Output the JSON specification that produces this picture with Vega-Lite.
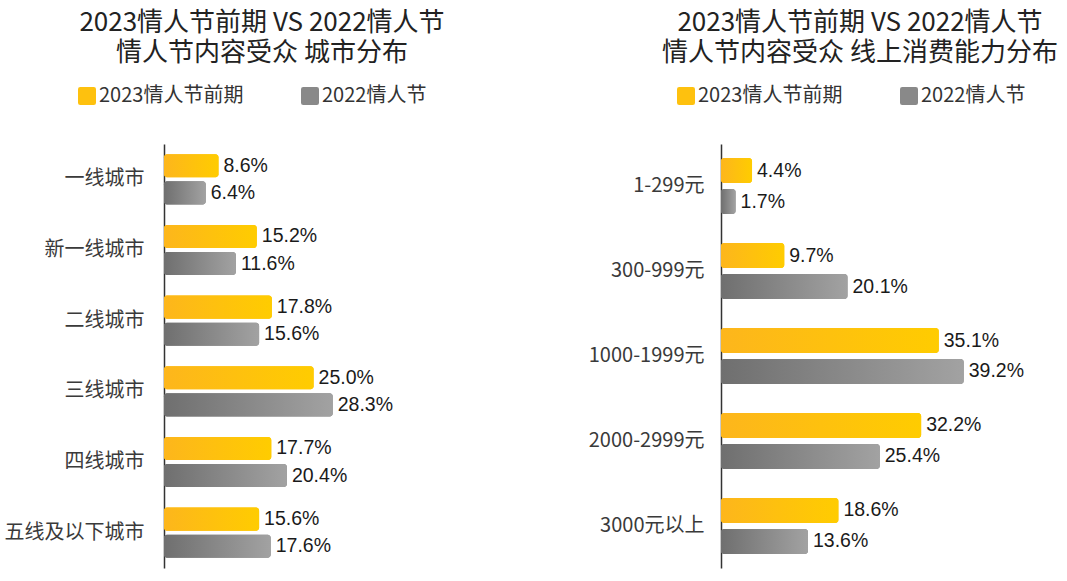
{
  "$schema": "https://vega.github.io/schema/vega-lite/v6.json",
  "background": "white",
  "padding": {"left": 4, "top": 10, "right": 5, "bottom": 5},
  "bounds": "flush",
  "spacing": 361,
  "config": {
    "view": {"stroke": null},
    "font": "Noto Sans CJK SC",
    "axis": {"labelFont": "Noto Sans CJK SC", "labelFontSize": 20, "labelColor": "#3a3a3a", "domainColor": "#333333", "domainWidth": 1.5, "ticks": false, "title": null, "labelPadding": 20, "grid": false},
    "legend": {"padding": 0},
    "title": {"font": "Noto Sans CJK SC", "fontSize": 26, "fontWeight": "normal", "color": "#222222", "lineHeight": 30, "anchor": "middle", "offset": 20}
  },
  "datasets": {
    "city": [
      {"category": "一线城市", "series": "2023情人节前期", "value": 0.086},
      {"category": "一线城市", "series": "2022情人节", "value": 0.064},
      {"category": "新一线城市", "series": "2023情人节前期", "value": 0.152},
      {"category": "新一线城市", "series": "2022情人节", "value": 0.116},
      {"category": "二线城市", "series": "2023情人节前期", "value": 0.178},
      {"category": "二线城市", "series": "2022情人节", "value": 0.156},
      {"category": "三线城市", "series": "2023情人节前期", "value": 0.250},
      {"category": "三线城市", "series": "2022情人节", "value": 0.283},
      {"category": "四线城市", "series": "2023情人节前期", "value": 0.177},
      {"category": "四线城市", "series": "2022情人节", "value": 0.204},
      {"category": "五线及以下城市", "series": "2023情人节前期", "value": 0.156},
      {"category": "五线及以下城市", "series": "2022情人节", "value": 0.176}
    ],
    "spend": [
      {"category": "1-299元", "series": "2023情人节前期", "value": 0.044},
      {"category": "1-299元", "series": "2022情人节", "value": 0.017},
      {"category": "300-999元", "series": "2023情人节前期", "value": 0.097},
      {"category": "300-999元", "series": "2022情人节", "value": 0.201},
      {"category": "1000-1999元", "series": "2023情人节前期", "value": 0.351},
      {"category": "1000-1999元", "series": "2022情人节", "value": 0.392},
      {"category": "2000-2999元", "series": "2023情人节前期", "value": 0.322},
      {"category": "2000-2999元", "series": "2022情人节", "value": 0.254},
      {"category": "3000元以上", "series": "2023情人节前期", "value": 0.186},
      {"category": "3000元以上", "series": "2022情人节", "value": 0.136}
    ]
  },
  "resolve": {"scale": {"color": "independent", "x": "independent", "y": "independent", "yOffset": "independent"}, "legend": {"color": "independent"}},
  "hconcat": [
    {
      "width": 196,
      "height": 424,
      "title": {"text": ["2023情人节前期 VS 2022情人节", "情人节内容受众 城市分布"]},
      "data": {"name": "city"},
      "encoding": {
        "y": {"field": "category", "type": "nominal", "sort": null, "scale": {"paddingInner": 0.29, "paddingOuter": 0.145}, "axis": {}},
        "yOffset": {"field": "series", "type": "nominal", "sort": ["2023情人节前期", "2022情人节"], "scale": {"domain": ["2023情人节前期", "2022情人节"], "paddingInner": 0.15, "paddingOuter": 0}},
        "x": {"field": "value", "type": "quantitative", "scale": {"domain": [-0.008, 0.33], "nice": false, "zero": false}, "axis": null}
      },
      "layer": [
        {
          "mark": {"type": "bar", "cornerRadius": 3},
          "encoding": {
            "x2": {"datum": -0.008},
            "color": {
              "field": "series", "type": "nominal",
              "scale": {"domain": ["2023情人节前期", "2022情人节"], "range": ["#FEC10E", "#898989"]},
              "legend": {
                "orient": "none", "legendX": -87, "legendY": -58, "direction": "horizontal", "title": null,
                "symbolType": "M -0.75 -1 H 0.75 Q 1 -1 1 -0.75 V 0.75 Q 1 1 0.75 1 H -0.75 Q -1 1 -1 0.75 V -0.75 Q -1 -1 -0.75 -1 Z",
                "symbolSize": 324, "symbolStrokeWidth": 0, "symbolOpacity": 1, "labelFontSize": 20, "labelColor": "#333333", "labelFont": "Noto Sans CJK SC", "labelOffset": 2, "columnPadding": 56
              }
            }
          }
        },
        {
          "transform": [{"filter": "datum.series === '2023情人节前期'"}],
          "mark": {"type": "bar", "cornerRadius": 3, "color": {"gradient": "linear", "x1": 0, "y1": 0, "x2": 1, "y2": 0, "stops": [{"offset": 0, "color": "#FDB61C"}, {"offset": 1, "color": "#FFCC00"}]}},
          "encoding": {"x2": {"datum": -0.008}}
        },
        {
          "transform": [{"filter": "datum.series === '2022情人节'"}],
          "mark": {"type": "bar", "cornerRadius": 3, "color": {"gradient": "linear", "x1": 0, "y1": 0, "x2": 1, "y2": 0, "stops": [{"offset": 0, "color": "#6F6F6F"}, {"offset": 1, "color": "#A2A2A2"}]}},
          "encoding": {"x2": {"datum": -0.008}}
        },
        {
          "mark": {"type": "text", "align": "left", "baseline": "middle", "dx": 5, "font": "Liberation Sans", "fontSize": 19.5, "color": "#1a1a1a"},
          "encoding": {"text": {"field": "value", "type": "quantitative", "format": ".1%"}}
        }
      ]
    },
    {
      "width": 278,
      "height": 424,
      "title": {"text": ["2023情人节前期 VS 2022情人节", "情人节内容受众 线上消费能力分布"]},
      "data": {"name": "spend"},
      "encoding": {
        "y": {"field": "category", "type": "nominal", "sort": null, "scale": {"paddingInner": 0.34, "paddingOuter": 0.165}, "axis": {"labelPadding": 17}},
        "yOffset": {"field": "series", "type": "nominal", "sort": ["2023情人节前期", "2022情人节"], "scale": {"domain": ["2023情人节前期", "2022情人节"], "paddingInner": 0.19, "paddingOuter": 0}},
        "x": {"field": "value", "type": "quantitative", "scale": {"domain": [-0.007, 0.45], "nice": false, "zero": false}, "axis": null}
      },
      "layer": [
        {
          "mark": {"type": "bar", "cornerRadius": 3},
          "encoding": {
            "x2": {"datum": -0.007},
            "color": {
              "field": "series", "type": "nominal",
              "scale": {"domain": ["2023情人节前期", "2022情人节"], "range": ["#FEC10E", "#898989"]},
              "legend": {
                "orient": "none", "legendX": -45, "legendY": -58, "direction": "horizontal", "title": null,
                "symbolType": "M -0.75 -1 H 0.75 Q 1 -1 1 -0.75 V 0.75 Q 1 1 0.75 1 H -0.75 Q -1 1 -1 0.75 V -0.75 Q -1 -1 -0.75 -1 Z",
                "symbolSize": 324, "symbolStrokeWidth": 0, "symbolOpacity": 1, "labelFontSize": 20, "labelColor": "#333333", "labelFont": "Noto Sans CJK SC", "labelOffset": 2, "columnPadding": 56
              }
            }
          }
        },
        {
          "transform": [{"filter": "datum.series === '2023情人节前期'"}],
          "mark": {"type": "bar", "cornerRadius": 3, "color": {"gradient": "linear", "x1": 0, "y1": 0, "x2": 1, "y2": 0, "stops": [{"offset": 0, "color": "#FDB61C"}, {"offset": 1, "color": "#FFCC00"}]}},
          "encoding": {"x2": {"datum": -0.007}}
        },
        {
          "transform": [{"filter": "datum.series === '2022情人节'"}],
          "mark": {"type": "bar", "cornerRadius": 3, "color": {"gradient": "linear", "x1": 0, "y1": 0, "x2": 1, "y2": 0, "stops": [{"offset": 0, "color": "#6F6F6F"}, {"offset": 1, "color": "#A2A2A2"}]}},
          "encoding": {"x2": {"datum": -0.007}}
        },
        {
          "mark": {"type": "text", "align": "left", "baseline": "middle", "dx": 5, "font": "Liberation Sans", "fontSize": 19.5, "color": "#1a1a1a"},
          "encoding": {"text": {"field": "value", "type": "quantitative", "format": ".1%"}}
        }
      ]
    }
  ]
}
